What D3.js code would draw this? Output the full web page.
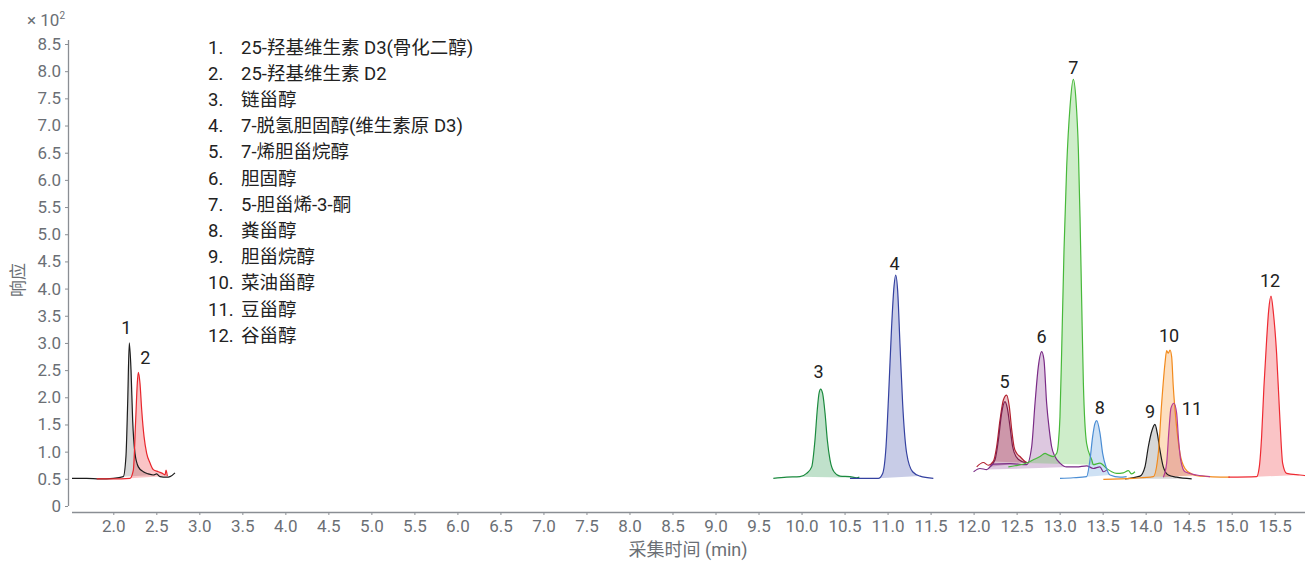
<!DOCTYPE html>
<html><head><meta charset="utf-8">
<script src="https://cdn.jsdelivr.net/npm/d3@7"></script>
<style>
html,body{margin:0;padding:0;background:#fff;}
svg{display:block;font-family:Roboto,"Noto Sans CJK SC",sans-serif;}
</style></head><body>
<svg id="chart" width="1305" height="561"></svg>
<script>
// ---- data (time in min, response in ×10^2) ----
const compoundNames = ["25-羟基维生素 D3(骨化二醇)","25-羟基维生素 D2","链甾醇","7-脱氢胆固醇(维生素原 D3)","7-烯胆甾烷醇","胆固醇","5-胆甾烯-3-酮","粪甾醇","胆甾烷醇","菜油甾醇","豆甾醇","谷甾醇"];
const xTickValues = [2.0,2.5,3.0,3.5,4.0,4.5,5.0,5.5,6.0,6.5,7.0,7.5,8.0,8.5,9.0,9.5,10.0,10.5,11.0,11.5,12.0,12.5,13.0,13.5,14.0,14.5,15.0,15.5];
const yTickValues = [0,0.5,1.0,1.5,2.0,2.5,3.0,3.5,4.0,4.5,5.0,5.5,6.0,6.5,7.0,7.5,8.0,8.5];

const peak1 = [[1.52,0.51],[1.69,0.51],[1.845,0.50],[2.0,0.51],[2.116,0.54],[2.147,0.91],[2.167,1.89],[2.186,3.0],[2.206,2.5],[2.225,1.58],[2.252,0.97],[2.291,0.72],[2.349,0.63],[2.407,0.59],[2.465,0.57],[2.504,0.59],[2.543,0.54],[2.62,0.53],[2.659,0.54],[2.717,0.61]];
const peak2 = [[1.807,0.50],[2.0,0.50],[2.194,0.51],[2.233,0.66],[2.26,1.58],[2.279,2.26],[2.291,2.46],[2.31,2.26],[2.33,1.77],[2.357,1.28],[2.388,0.97],[2.427,0.79],[2.465,0.67],[2.523,0.63],[2.582,0.59],[2.601,0.57],[2.613,0.66],[2.628,0.55]];
const peak3 = [[9.672,0.51],[9.827,0.53],[9.982,0.54],[10.059,0.60],[10.118,0.72],[10.156,1.21],[10.183,1.77],[10.203,2.07],[10.222,2.15],[10.245,2.07],[10.273,1.71],[10.3,1.21],[10.331,0.85],[10.377,0.63],[10.447,0.55],[10.563,0.54],[10.64,0.52],[10.672,0.53]];
const peak4 = [[10.563,0.51],[10.757,0.51],[10.892,0.51],[10.943,0.60],[10.982,1.09],[11.013,2.07],[11.047,3.30],[11.075,4.04],[11.094,4.25],[11.117,3.97],[11.144,2.99],[11.175,1.89],[11.222,0.97],[11.291,0.63],[11.377,0.55],[11.532,0.51]];
const peak5a = [[12.036,0.72],[12.113,0.80],[12.171,0.75],[12.229,0.82],[12.268,1.09],[12.307,1.58],[12.346,1.95],[12.384,2.04],[12.415,1.83],[12.443,1.40],[12.47,1.09],[12.501,0.97],[12.539,0.91],[12.597,0.82],[12.636,0.79]];
const peak5b = [[12.191,0.72],[12.249,0.85],[12.288,1.21],[12.326,1.71],[12.365,1.92],[12.392,1.80],[12.423,1.46],[12.454,1.09],[12.493,0.91],[12.559,0.82],[12.617,0.80]];
const peak6 = [[12.0,0.63],[12.074,0.69],[12.152,0.67],[12.229,0.77],[12.423,0.78],[12.617,0.76],[12.675,1.09],[12.714,1.89],[12.752,2.56],[12.791,2.84],[12.818,2.69],[12.849,1.89],[12.88,1.40],[12.907,1.09],[12.946,0.91],[13.004,0.79],[13.082,0.72],[13.198,0.72],[13.314,0.74],[13.392,0.69],[13.469,0.72],[13.508,0.63],[13.547,0.66]];
const peak7 = [[12.404,0.72],[12.481,0.74],[12.617,0.79],[12.694,0.85],[12.772,0.91],[12.83,0.97],[12.869,0.94],[12.927,0.91],[12.966,0.97],[12.985,1.15],[13.004,1.64],[13.024,2.87],[13.051,4.71],[13.082,6.24],[13.121,7.35],[13.159,7.85],[13.19,7.47],[13.218,6.55],[13.237,5.32],[13.256,3.79],[13.276,2.26],[13.314,1.15],[13.373,0.85],[13.392,0.76],[13.469,0.79],[13.547,0.69],[13.605,0.63],[13.663,0.60],[13.74,0.61],[13.799,0.65],[13.837,0.59],[13.876,0.63]];
const peak8 = [[13.004,0.51],[13.159,0.52],[13.314,0.54],[13.353,0.85],[13.384,1.28],[13.411,1.52],[13.431,1.57],[13.469,1.34],[13.5,0.97],[13.539,0.72],[13.586,0.57],[13.702,0.53],[13.779,0.54]];
const peak9 = [[13.76,0.50],[13.934,0.55],[13.992,0.72],[14.031,1.09],[14.07,1.37],[14.108,1.50],[14.135,1.34],[14.166,1.03],[14.205,0.72],[14.263,0.57],[14.36,0.53],[14.535,0.50]];
const peak10 = [[13.508,0.49],[13.856,0.51],[14.089,0.54],[14.147,0.97],[14.186,1.89],[14.225,2.63],[14.244,2.86],[14.263,2.81],[14.283,2.87],[14.302,2.75],[14.321,2.20],[14.352,1.58],[14.399,0.97],[14.457,0.69],[14.535,0.59],[14.631,0.55],[14.98,0.53]];
const peak11 = [[14.205,0.53],[14.244,0.79],[14.271,1.40],[14.294,1.80],[14.329,1.89],[14.36,1.71],[14.383,1.21],[14.407,0.85],[14.457,0.63],[14.593,0.57],[14.748,0.54]];
const peak12 = [[14.961,0.53],[15.29,0.54],[15.321,0.72],[15.348,1.28],[15.375,2.20],[15.406,3.05],[15.43,3.6],[15.457,3.86],[15.485,3.55],[15.522,2.81],[15.561,1.58],[15.592,0.79],[15.639,0.60],[15.794,0.57],[15.852,0.56]];

const seriesData   = [peak1, peak2, peak3, peak4, peak5a, peak5b, peak6, peak7, peak8, peak9, peak10, peak11, peak12];
const seriesLabels = ["1","2","3","4","5",null,"6","7","8","9","10","11","12"];
const fillRanges   = [[2.116,2.465],[2.194,2.628],[9.982,10.64],[10.892,11.377],[12.229,12.636],[12.191,12.617],[12.152,13.198],[12.617,13.392],[13.314,13.586],[13.76,14.535],[14.089,14.631],[14.205,14.593],[15.29,15.794]];

// ---- styles ----
const seriesColors = ["#1c1c1c","#e8262c","#1b8a3e","#3441a0","#b3202e","#7d1f4f","#7a2b86","#47b83a","#4a8dd4","#1c1c1c","#f28a1c","#b53c95","#ee2a32"];
const fillColors   = ["#7a7a7a","#ef3b42","#2e9a52","#4a55b0","#b84050","#8a3060","#8e4a98","#5cc450","#5c9bdc","#7a7a7a","#f7962a","#c8505e","#ef3b42"];
const labelOffsets = [[-3,-9],[7,-8],[-2,-11],[-1,-5],[-2,-7],null,[0,-9],[0,-5],[3,-7],[-5,-6],[-1,-8],[18,12],[-1,-9]];

const svg = d3.select("#chart");
const axisGrey = "#8a8e94", textGrey = "#6b6f75";

const x = d3.scaleLinear().domain([2, 15.5]).range([113.3, 1274.7]);
const y = d3.scaleLinear().domain([0, 8.5]).range([506, 44]);

// axes
const xAxis = d3.axisBottom(x).tickValues(xTickValues).tickFormat(d3.format(".1f")).tickSize(3).tickPadding(5).tickSizeOuter(0);
const gx = svg.append("g").attr("transform","translate(0,512)").call(xAxis);
gx.select(".domain").remove();
gx.append("line").attr("x1",72).attr("x2",1305).attr("y1",0.5).attr("y2",0.5).attr("stroke",axisGrey).attr("stroke-width",1.3);
gx.selectAll(".tick line").attr("stroke",axisGrey);
gx.selectAll(".tick text").attr("fill",textGrey).style("font-size","17px").style("font-family","Roboto");

const yAxis = d3.axisLeft(y).tickValues(yTickValues).tickFormat(d => d === 0 ? "0" : d3.format(".1f")(d)).tickSize(3).tickPadding(4).tickSizeOuter(0);
const gy = svg.append("g").attr("transform","translate(68,0)").call(yAxis);
gy.select(".domain").remove();
gy.append("line").attr("x1",0.5).attr("x2",0.5).attr("y1",40).attr("y2",506).attr("stroke",axisGrey).attr("stroke-width",1.3);
gy.selectAll(".tick line").attr("stroke",axisGrey);
gy.selectAll(".tick text").attr("fill",textGrey).style("font-size","17px").style("font-family","Roboto");

// multiplier
const mult = svg.append("text").attr("x",27).attr("y",26).attr("fill",textGrey).style("font-size","17px");
mult.append("tspan").text("× 10");
mult.append("tspan").attr("dy",-7).style("font-size","10px").text("2");

// axis titles
svg.append("text").attr("transform","translate(24,280) rotate(-90)").attr("text-anchor","middle")
  .attr("fill",textGrey).style("font-size","17px").text("响应");
svg.append("text").attr("x",688).attr("y",556).attr("text-anchor","middle")
  .attr("fill",textGrey).style("font-size","18px").text("采集时间 (min)");

// traces
const line = d3.line().x(d => x(d[0])).y(d => y(d[1])).curve(d3.curveMonotoneX);
const gFill = svg.append("g"), gLine = svg.append("g"), gLab = svg.append("g");
seriesData.forEach((pts, i) => {
  const [a, b] = fillRanges[i];
  const sub = pts.filter(p => p[0] >= a - 1e-9 && p[0] <= b + 1e-9);
  gFill.append("path").attr("d", line(sub) + "Z").attr("fill", fillColors[i]).attr("fill-opacity", 0.3).attr("stroke","none");
});
seriesData.forEach((pts, i) => {
  gLine.append("path").attr("d", line(pts)).attr("fill","none").attr("stroke", seriesColors[i]).attr("stroke-width",1.2).attr("stroke-linejoin","round");
  if (seriesLabels[i]) {
    const apex = pts.reduce((m, p) => p[1] > m[1] ? p : m, pts[0]);
    const off = labelOffsets[i];
    gLab.append("text").attr("x", x(apex[0]) + off[0]).attr("y", y(apex[1]) + off[1])
      .attr("text-anchor","middle").attr("fill","#222").style("font-size","18px").text(seriesLabels[i]);
  }
});

// legend
const gLeg = svg.append("g").style("font-size","18.5px").attr("fill","#222");
compoundNames.forEach((n, i) => {
  const yy = 47 + i * 26.2 + 6.5;
  gLeg.append("text").attr("x",208).attr("y",yy).text((i + 1) + ".");
  gLeg.append("text").attr("x",241).attr("y",yy).text(n);
});
</script>
</body></html>
